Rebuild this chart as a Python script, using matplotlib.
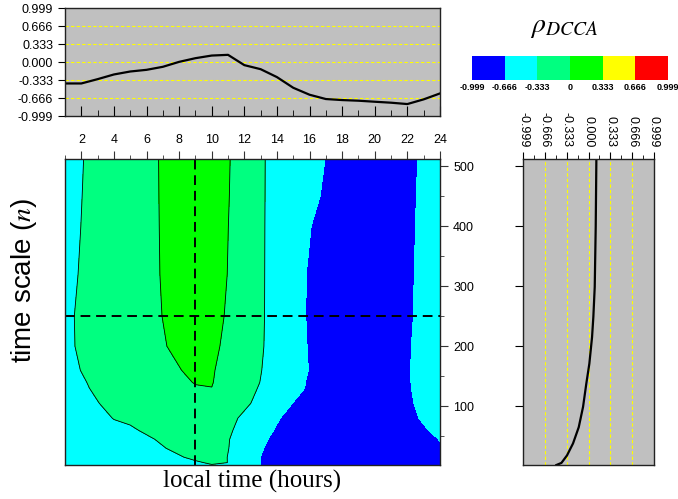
import matplotlib.pyplot as plt

plt.rcParams['font.family'] = ['Liberation Sans', 'DejaVu Sans']
plt.rcParams['mathtext.fontset'] = 'stix'

# local time (hours) and time scales n of the contour grid
hours = list(range(1, 25))
n_rows = [2, 6, 15, 30, 45, 60, 80, 105, 130, 140, 160, 200, 250, 320, 400, 450, 512]

# rho_DCCA(hour, n), one row per time scale
rho_grid = [
    [-0.50, -0.50, -0.50, -0.50, -0.50, -0.50, -0.50, -0.50, -0.45, -0.36, -0.40, -0.472,
     -0.672, -0.80, -0.80, -0.80, -0.80, -0.80, -0.80, -0.80, -0.80, -0.80, -0.80, -0.80],
    [-0.50, -0.50, -0.50, -0.50, -0.50, -0.50, -0.50, -0.50, -0.416, -0.25, -0.337, -0.472,
     -0.672, -0.80, -0.80, -0.80, -0.80, -0.80, -0.80, -0.80, -0.80, -0.80, -0.80, -0.80],
    [-0.50, -0.50, -0.50, -0.50, -0.50, -0.50, -0.50, -0.393, -0.193, -0.143, -0.343, -0.472,
     -0.672, -0.80, -0.80, -0.80, -0.80, -0.80, -0.80, -0.80, -0.80, -0.80, -0.80, -0.80],
    [-0.50, -0.50, -0.50, -0.50, -0.50, -0.50, -0.373, -0.173, -0.15, -0.15, -0.323, -0.523,
     -0.626, -0.826, -0.80, -0.80, -0.80, -0.80, -0.80, -0.80, -0.80, -0.80, -0.80, -0.72],
    [-0.50, -0.50, -0.50, -0.50, -0.50, -0.433, -0.233, -0.18, -0.15, -0.15, -0.313, -0.513,
     -0.576, -0.776, -0.80, -0.80, -0.80, -0.80, -0.80, -0.80, -0.80, -0.80, -0.846, -0.646],
    [-0.55, -0.50, -0.50, -0.50, -0.433, -0.233, -0.18, -0.15, -0.13, -0.13, -0.273, -0.473,
     -0.506, -0.706, -0.80, -0.80, -0.80, -0.80, -0.80, -0.80, -0.80, -0.80, -0.726, -0.526],
    [-0.55, -0.52, -0.513, -0.313, -0.20, -0.15, -0.12, -0.10, -0.10, -0.10, -0.213, -0.413,
     -0.50, -0.626, -0.826, -0.80, -0.80, -0.80, -0.80, -0.80, -0.80, -0.806, -0.606, -0.55],
    [-0.55, -0.50, -0.353, -0.153, -0.15, -0.12, -0.10, -0.08, -0.07, -0.07, -0.10, -0.253,
     -0.453, -0.476, -0.676, -0.80, -0.80, -0.80, -0.80, -0.80, -0.80, -0.746, -0.546, -0.55],
    [-0.55, -0.433, -0.233, -0.18, -0.15, -0.12, -0.10, -0.08, -0.06, -0.005, -0.10, -0.173,
     -0.373, -0.50, -0.526, -0.726, -0.80, -0.80, -0.80, -0.80, -0.80, -0.716, -0.516, -0.55],
    [-0.55, -0.399, -0.199, -0.15, -0.12, -0.10, -0.08, -0.16, 0.04, 0.02, -0.18, -0.143,
     -0.343, -0.50, -0.516, -0.716, -0.80, -0.80, -0.80, -0.80, -0.80, -0.710, -0.510, -0.55],
    [-0.521, -0.321, -0.20, -0.15, -0.12, -0.10, -0.08, -0.03, 0.17, 0.04, -0.16, -0.20,
     -0.319, -0.519, -0.48, -0.68, -0.80, -0.80, -0.80, -0.80, -0.80, -0.706, -0.506, -0.55],
    [-0.455, -0.255, -0.20, -0.15, -0.12, -0.12, -0.05, 0.15, 0.15, 0.10, -0.10, -0.15,
     -0.293, -0.493, -0.496, -0.696, -0.80, -0.80, -0.80, -0.80, -0.80, -0.716, -0.516, -0.55],
    [-0.447, -0.247, -0.20, -0.15, -0.12, -0.19, 0.01, 0.08, 0.09, 0.152, -0.048, -0.15,
     -0.285, -0.485, -0.512, -0.712, -0.80, -0.80, -0.80, -0.80, -0.80, -0.740, -0.540, -0.55],
    [-0.493, -0.293, -0.20, -0.15, -0.12, -0.164, 0.036, 0.08, 0.09, 0.19, -0.01, -0.15,
     -0.283, -0.483, -0.506, -0.706, -0.80, -0.80, -0.80, -0.80, -0.80, -0.750, -0.550, -0.55],
    [-0.527, -0.327, -0.20, -0.15, -0.12, -0.156, 0.044, 0.08, 0.09, 0.08, 0.004, -0.196,
     -0.281, -0.481, -0.50, -0.646, -0.846, -0.80, -0.80, -0.80, -0.80, -0.766, -0.566, -0.55],
    [-0.40, -0.343, -0.143, -0.15, -0.12, -0.152, 0.048, 0.08, 0.09, 0.08, 0.016, -0.184,
     -0.279, -0.479, -0.50, -0.536, -0.736, -0.80, -0.80, -0.80, -0.80, -0.776, -0.576, -0.55],
    [-0.40, -0.361, -0.161, -0.15, -0.12, -0.148, 0.052, 0.08, 0.09, 0.08, 0.026, -0.174,
     -0.277, -0.477, -0.50, -0.476, -0.676, -0.80, -0.80, -0.80, -0.80, -0.792, -0.592, -0.55],
]

# cut at n = 250 (top panel) and at hour 9 (right panel)
cut_n = 250
rho_at_cut_n = [-0.395, -0.395, -0.315, -0.228, -0.173, -0.142, -0.086, 0.006, 0.074, 0.123,
                0.136, -0.055, -0.13, -0.277, -0.475, -0.604, -0.684, -0.703, -0.715, -0.734,
                -0.752, -0.777, -0.69, -0.58]
cut_hour = 9
n_at_cut_hour = [2, 5.5, 18, 38, 65, 99, 138, 171, 215, 249, 299, 399, 512]
rho_at_cut_hour = [-0.49, -0.413, -0.328, -0.236, -0.149, -0.083, -0.033, 0.013, 0.054,
                   0.074, 0.095, 0.110, 0.120]

levels = [-0.999, -0.666, -0.333, 0.0, 0.333, 0.666, 0.999]
level_labels = ['-0.999', '-0.666', '-0.333', '0', '0.333', '0.666', '0.999']
axis_labels = ['-0.999', '-0.666', '-0.333', '0.000', '0.333', '0.666', '0.999']
level_colors = ['#0000ff', '#00ffff', '#00ff80', '#00ff00', '#ffff00', '#ff0000']

fig = plt.figure(figsize=(6.78, 4.99), dpi=100)
ax_top = fig.add_axes([0.0959, 0.7675, 0.553, 0.2158])
ax = fig.add_axes([0.0959, 0.0681, 0.553, 0.6132])
ax_right = fig.add_axes([0.7714, 0.0681, 0.1932, 0.6132])
cax = fig.add_axes([0.6962, 0.8397, 0.2891, 0.0481])

# main contour map
cf = ax.contourf(hours, n_rows, rho_grid, levels=levels, colors=level_colors)
ax.contour(hours, n_rows, rho_grid, levels=[-0.333, 0.0], colors='black',
           linewidths=0.6, linestyles='solid')
ax.axhline(cut_n, color='black', lw=1.4, ls=(0, (5, 3)))
ax.axvline(cut_hour, color='black', lw=1.4, ls=(0, (5, 3)))
ax.set_xlim(1, 24)
ax.set_ylim(2, 512)
ax.xaxis.tick_top()
ax.set_xticks(range(2, 25, 2))
ax.set_xticks(range(1, 25, 2), minor=True)
ax.yaxis.tick_right()
ax.set_yticks([100, 200, 300, 400, 500])
ax.set_yticks([50, 150, 250, 350, 450], minor=True)
ax.tick_params(which='major', direction='out', length=6, labelsize=9, color='#333333')
ax.tick_params(which='minor', direction='out', length=3, color='#333333')

# top panel: rho at n = 250
ax_top.set_facecolor('#c0c0c0')
for lv in levels[1:-1]:
    ax_top.axhline(lv, color='#ffff00', lw=0.8, ls=(0, (3, 2)))
ax_top.plot(hours, rho_at_cut_n, color='black', lw=1.6)
ax_top.set_xlim(1, 24)
ax_top.set_ylim(-0.999, 0.999)
ax_top.set_yticks(levels)
ax_top.set_yticklabels(axis_labels)
ax_top.set_xticks(range(2, 25, 2))
ax_top.set_xticks(range(1, 25, 2), minor=True)
ax_top.tick_params(axis='x', which='major', direction='in', length=7, labelbottom=False)
ax_top.tick_params(axis='x', which='minor', direction='in', length=4)
ax_top.tick_params(axis='y', direction='out', length=5, labelsize=9)

# right panel: rho at hour 9
ax_right.set_facecolor('#c0c0c0')
for lv in levels[1:-1]:
    ax_right.axvline(lv, color='#ffff00', lw=0.8, ls=(0, (3, 2)))
ax_right.plot(rho_at_cut_hour, n_at_cut_hour, color='black', lw=1.6)
ax_right.set_xlim(-0.999, 0.999)
ax_right.set_ylim(2, 512)
ax_right.xaxis.tick_top()
ax_right.set_xticks(levels)
ax_right.set_xticklabels(axis_labels, rotation=-90)
ax_right.set_xticks([-0.8325, -0.4995, -0.1665, 0.1665, 0.4995, 0.8325], minor=True)
ax_right.set_yticks([100, 200, 300, 400, 500])
ax_right.tick_params(axis='x', which='major', direction='out', length=5, labelsize=9)
ax_right.tick_params(axis='x', which='minor', direction='out', length=3)
ax_right.tick_params(axis='y', direction='out', length=6, labelleft=False)

for a in (ax_top, ax, ax_right):
    for sp in a.spines.values():
        sp.set_linewidth(1.0)
        sp.set_color('#222222')

# colour scale
cb = fig.colorbar(cf, cax=cax, orientation='horizontal')
cb.set_ticks(levels)
cb.set_ticklabels(level_labels)
cb.outline.set_visible(False)
cax.tick_params(length=0, labelsize=6.5, pad=2)
for t in cax.get_xticklabels():
    t.set_fontweight('bold')

fig.text(0.832, 0.945, r'$\rho_{DCCA}$', fontsize=20, ha='center', va='center')
fig.text(24 / 678, 0.439, 'time scale ($n$)', rotation=90, fontsize=20, ha='center', va='center')
fig.text(252 / 678, 0.036, 'local time (hours)', family='Liberation Serif', fontsize=18,
         ha='center', va='center')

fig.savefig('out.png', dpi=100)
